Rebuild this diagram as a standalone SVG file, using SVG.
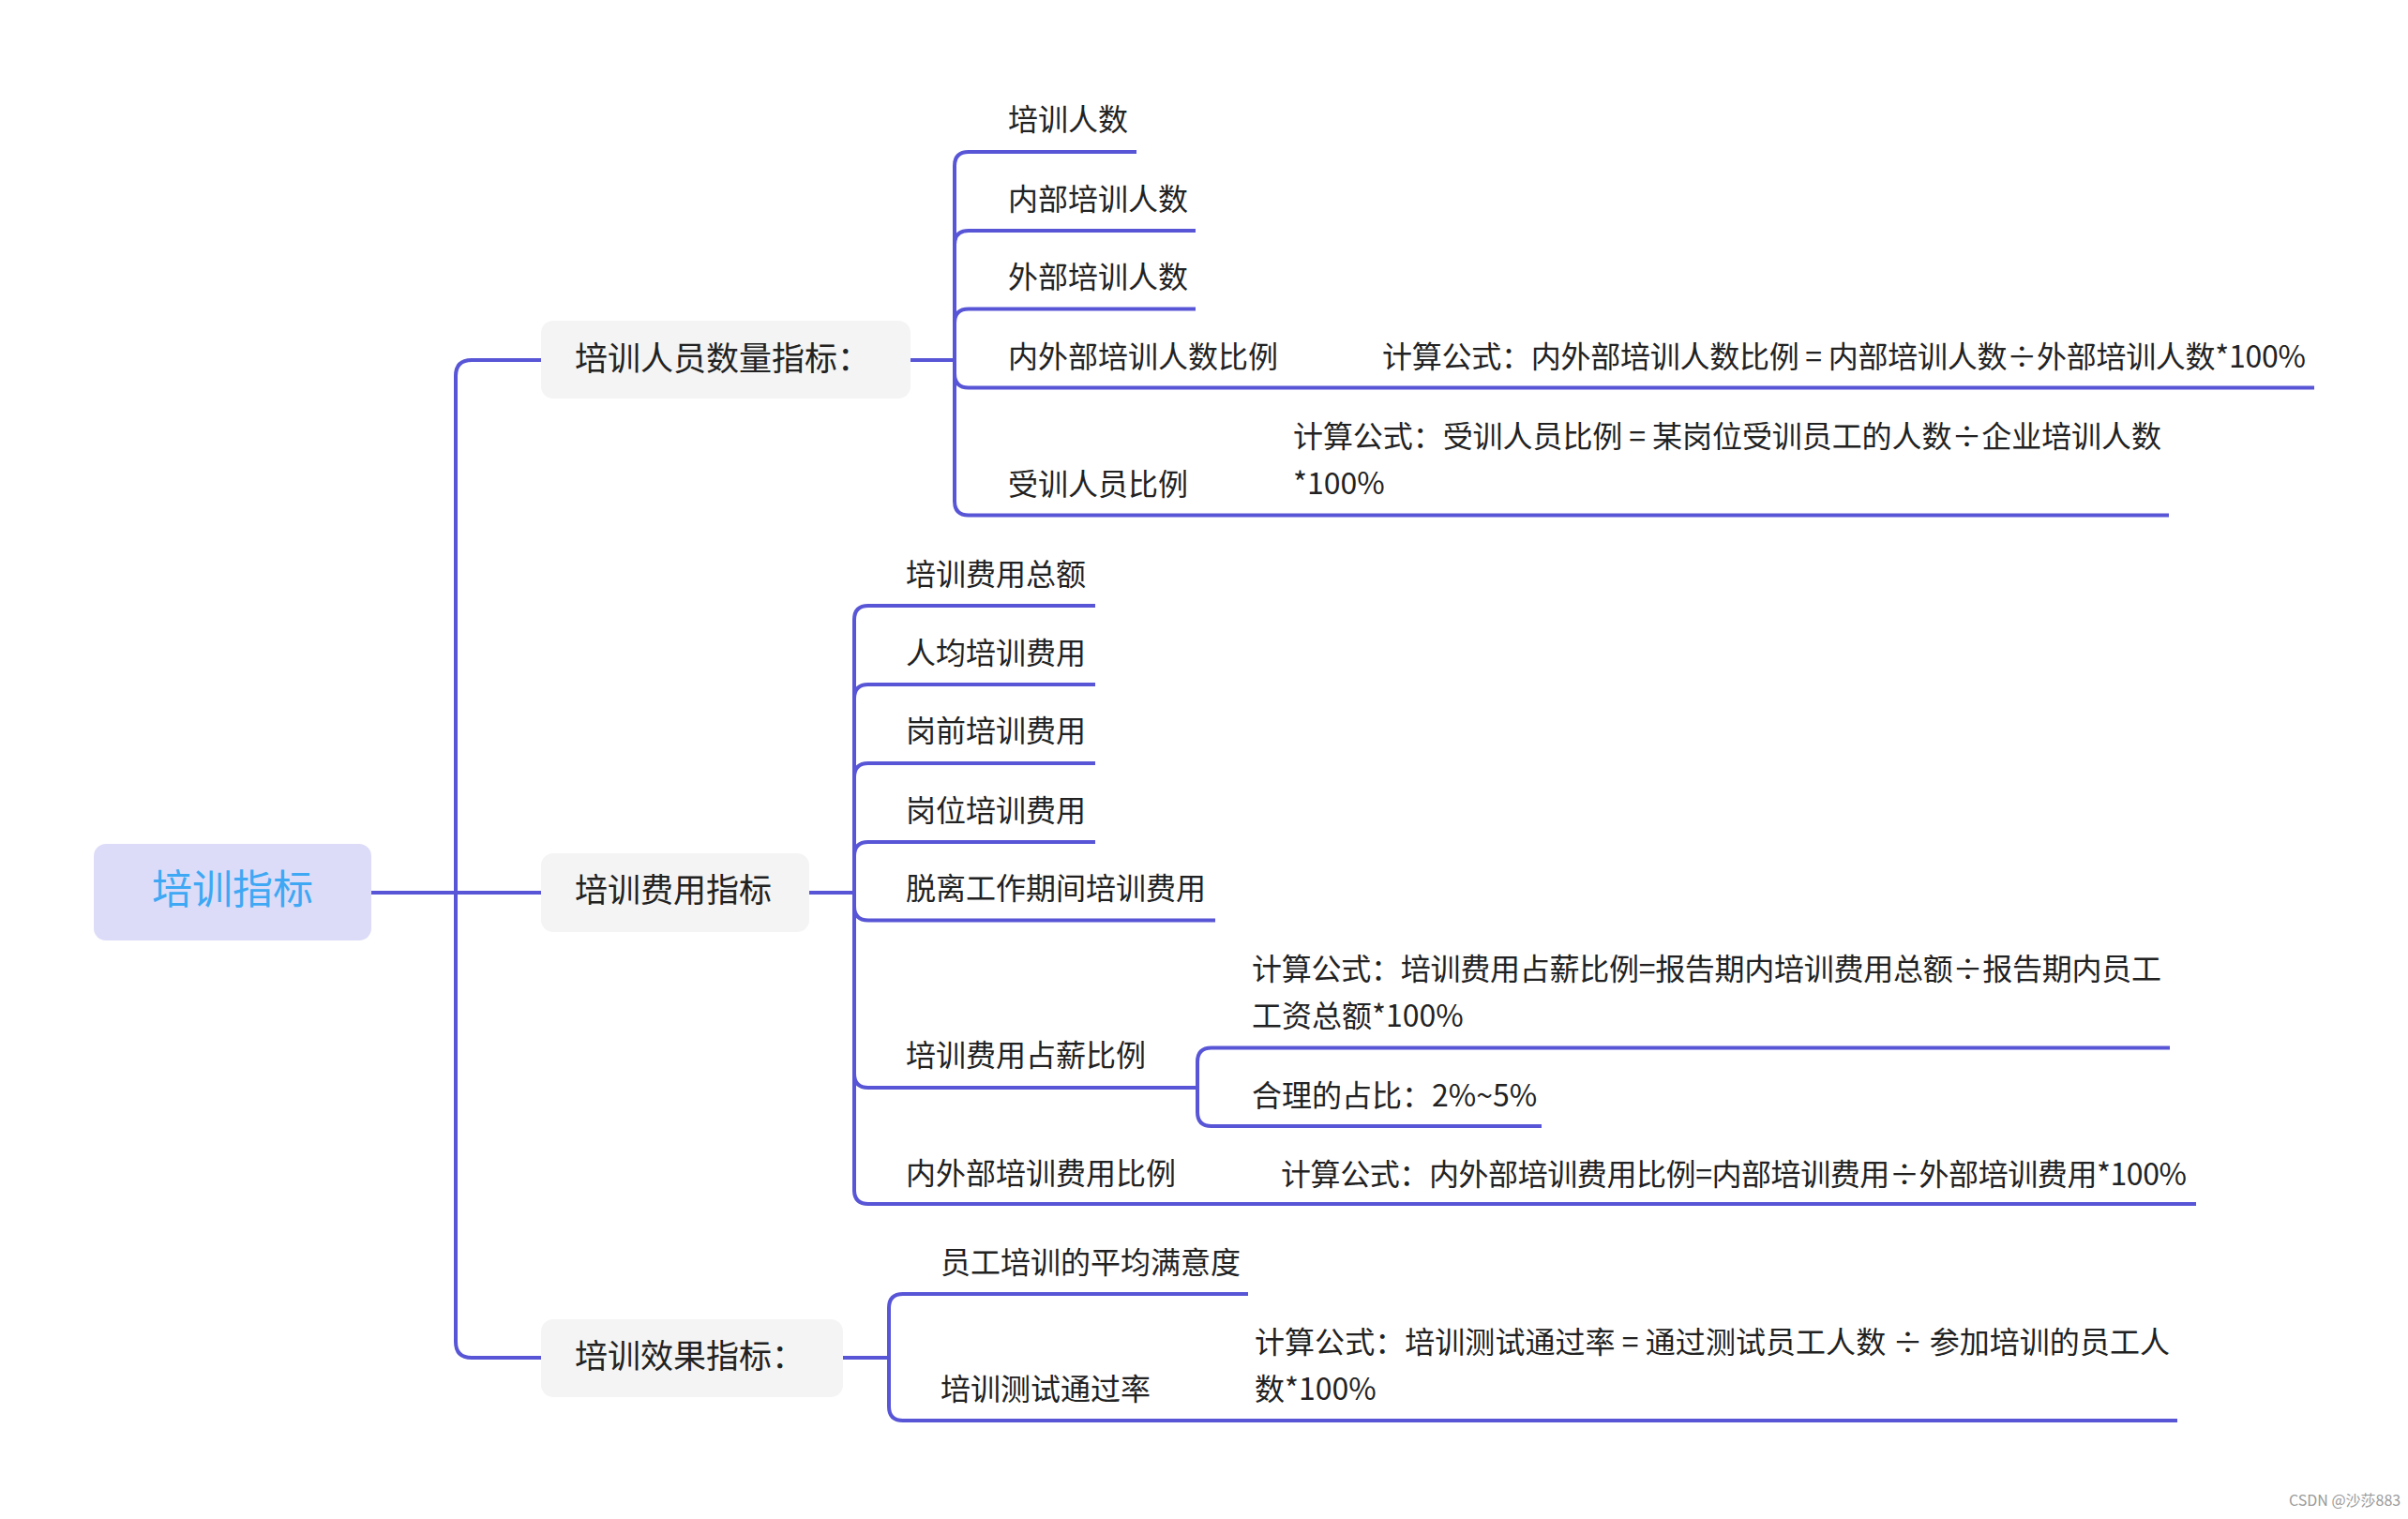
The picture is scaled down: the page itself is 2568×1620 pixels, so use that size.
<svg xmlns="http://www.w3.org/2000/svg" width="2568" height="1620" viewBox="0 0 2568 1620">
<style>
.ln{fill:none;stroke:#5856d6;stroke-width:4;stroke-linecap:butt}
.t{font-family:"Microsoft YaHei","Noto Sans CJK SC","Noto Sans",sans-serif;fill:#222}
.leaf{font-size:32px}
.l1{font-size:35px}
.root{font-size:43px;fill:#3ea8f4}
.n1{fill:#f4f4f4}
.wm{font-family:"Noto Sans CJK SC","Noto Sans",sans-serif;font-size:16px;fill:#9a9a9a}
</style>
<rect width="2568" height="1620" fill="#ffffff"/>
<g id="connectors">
<path class="ln" d="M396 952 H486"/>
<path class="ln" d="M486 952 V401 Q486 384 503 384 H577"/>
<path class="ln" d="M486 952 H577"/>
<path class="ln" d="M486 952 V1431 Q486 1448 503 1448 H577"/>
<path class="ln" d="M971 384 H1018"/>
<path class="ln" d="M1018 384 V177 Q1018 162 1033 162 H1212"/>
<path class="ln" d="M1018 384 V261 Q1018 246 1033 246 H1275"/>
<path class="ln" d="M1018 384 V344.5 Q1018 329.5 1033 329.5 H1275"/>
<path class="ln" d="M1018 384 V398.5 Q1018 413.5 1033 413.5 H2468"/>
<path class="ln" d="M1018 384 V534.5 Q1018 549.5 1033 549.5 H2313"/>
<path class="ln" d="M863 952 H911"/>
<path class="ln" d="M911 952 V661 Q911 646 926 646 H1168"/>
<path class="ln" d="M911 952 V745 Q911 730 926 730 H1168"/>
<path class="ln" d="M911 952 V829 Q911 814 926 814 H1168"/>
<path class="ln" d="M911 952 V913 Q911 898 926 898 H1168"/>
<path class="ln" d="M911 952 V966.5 Q911 981.5 926 981.5 H1296"/>
<path class="ln" d="M911 952 V1145 Q911 1160 926 1160 H1277"/>
<path class="ln" d="M911 952 V1269 Q911 1284 926 1284 H2342"/>
<path class="ln" d="M1277 1160 V1132.5 Q1277 1117.5 1292 1117.5 H2314"/>
<path class="ln" d="M1277 1160 V1186 Q1277 1201 1292 1201 H1644"/>
<path class="ln" d="M899 1448 H948"/>
<path class="ln" d="M948 1448 V1395 Q948 1380 963 1380 H1331"/>
<path class="ln" d="M948 1448 V1500 Q948 1515 963 1515 H2322"/>
</g>
<g id="root">
<rect x="100" y="900" width="296" height="103" rx="13" fill="#dcdcf8"/>
<text class="t root" x="248" y="964" text-anchor="middle">培训指标</text>
</g>
<g id="n-renyuan">
<rect class="n1" x="577" y="342" width="394" height="83" rx="13"/>
<text class="t l1" x="613" y="395">培训人员数量指标：</text>
</g>
<g id="n-feiyong">
<rect class="n1" x="577" y="910" width="286" height="84" rx="13"/>
<text class="t l1" x="613" y="962">培训费用指标</text>
</g>
<g id="n-xiaoguo">
<rect class="n1" x="577" y="1407" width="322" height="83" rx="13"/>
<text class="t l1" x="613" y="1459">培训效果指标：</text>
</g>
<g id="n-peixunrenshu"><text class="t leaf" x="1075" y="139">培训人数</text></g>
<g id="n-neibu"><text class="t leaf" x="1075" y="224">内部培训人数</text></g>
<g id="n-waibu"><text class="t leaf" x="1075" y="307">外部培训人数</text></g>
<g id="n-neiwaibu"><text class="t leaf" x="1075" y="392">内外部培训人数比例</text></g>
<g id="n-neiwaibu-f"><text class="t leaf" x="1474" y="392" textLength="985">计算公式：内外部培训人数比例 = 内部培训人数÷外部培训人数*100%</text></g>
<g id="n-shouxun"><text class="t leaf" x="1075" y="527.5">受训人员比例</text></g>
<g id="n-shouxun-f"><text class="t leaf" x="1379" y="477" textLength="926">计算公式：受训人员比例 = 某岗位受训员工的人数÷企业培训人数</text><text class="t leaf" x="1379" y="527">*100%</text></g>
<g id="n-zonge"><text class="t leaf" x="966" y="624">培训费用总额</text></g>
<g id="n-renjun"><text class="t leaf" x="966" y="707.5">人均培训费用</text></g>
<g id="n-gangqian"><text class="t leaf" x="966" y="791">岗前培训费用</text></g>
<g id="n-gangwei"><text class="t leaf" x="966" y="875.5">岗位培训费用</text></g>
<g id="n-tuoli"><text class="t leaf" x="966" y="959">脱离工作期间培训费用</text></g>
<g id="n-zhanxin"><text class="t leaf" x="966" y="1137">培训费用占薪比例</text></g>
<g id="n-zhanxin-f"><text class="t leaf" x="1335" y="1044.5" textLength="970">计算公式：培训费用占薪比例=报告期内培训费用总额÷报告期内员工</text><text class="t leaf" x="1335" y="1095">工资总额*100%</text></g>
<g id="n-heli"><text class="t leaf" x="1335" y="1180">合理的占比：2%~5%</text></g>
<g id="n-neiwaifei"><text class="t leaf" x="966" y="1262.5">内外部培训费用比例</text></g>
<g id="n-neiwaifei-f"><text class="t leaf" x="1366" y="1263.5" textLength="966">计算公式：内外部培训费用比例=内部培训费用÷外部培训费用*100%</text></g>
<g id="n-manyi"><text class="t leaf" x="1003" y="1358">员工培训的平均满意度</text></g>
<g id="n-tongguo"><text class="t leaf" x="1003" y="1493">培训测试通过率</text></g>
<g id="n-tongguo-f"><text class="t leaf" x="1338" y="1443" textLength="976">计算公式：培训测试通过率 = 通过测试员工人数 ÷ 参加培训的员工人</text><text class="t leaf" x="1338" y="1492.6">数*100%</text></g>
<text class="wm" x="2441" y="1606">CSDN @沙莎883</text>
</svg>
